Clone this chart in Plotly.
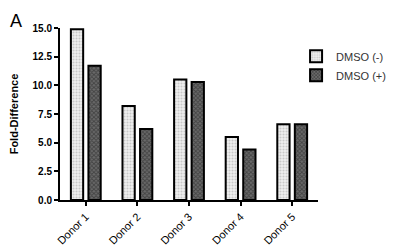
import plotly.graph_objects as go

categories = ["Donor 1", "Donor 2", "Donor 3", "Donor 4", "Donor 5"]
dmso_minus = [14.9, 8.2, 10.5, 5.5, 6.6]
dmso_plus = [11.7, 6.2, 10.3, 4.4, 6.6]
y_ticks = [0, 2.5, 5, 7.5, 10, 12.5, 15]
y_tick_labels = ["0.0", "2.5", "5.0", "7.5", "10.0", "12.5", "15.0"]

FONT = "Liberation Sans, Arial, sans-serif"

fig = go.Figure()
fig.add_trace(go.Bar(
    x=categories, y=dmso_minus, name="DMSO (-)",
    marker=dict(color="#eeeeee", line=dict(color="black", width=2),
                pattern=dict(shape=".", fgcolor="#a0a0a0", bgcolor="#f0f0f0", size=3, solidity=0.4)),
))
fig.add_trace(go.Bar(
    x=categories, y=dmso_plus, name="DMSO (+)",
    marker=dict(color="#444444", line=dict(color="black", width=2),
                pattern=dict(shape="x", fgcolor="#1a1a1a", bgcolor="#6a6a6a", size=3, solidity=0.5)),
))

# page has an 8px body margin, so the figure is sized to fit the 398x252 window
fig.update_layout(
    width=390, height=244,
    margin=dict(l=52, r=80, t=20, b=52, autoexpand=False),
    paper_bgcolor="white", plot_bgcolor="white",
    barmode="group", bargap=0.32, bargroupgap=0.3,
    font=dict(family=FONT, color="black"),
    showlegend=True,
    legend=dict(x=0.915, y=0.92, xanchor="left", yanchor="top",
                font=dict(size=11, color="#333333"), bgcolor="rgba(0,0,0,0)",
                itemwidth=30, tracegroupgap=0, itemsizing="constant"),
)
fig.add_annotation(text="A", xref="paper", yref="paper", x=-0.2, y=1.113, xanchor="left", yanchor="top",
                   showarrow=False, font=dict(size=18, color="black"))

fig.update_yaxes(range=[0, 15], tickvals=y_ticks, ticktext=y_tick_labels,
                 showline=True, linecolor="black", linewidth=2, ticks="outside", ticklen=4,
                 tickwidth=2, tickcolor="black", showgrid=False, zeroline=False, automargin=False,
                 tickfont=dict(size=10, family=FONT, weight="bold"),
                 title=dict(text="<b>Fold-Difference</b>", font=dict(size=11), standoff=14))
fig.update_xaxes(showline=True, linecolor="black", linewidth=2, ticks="outside", ticklen=4,
                 tickwidth=2, tickcolor="black", tickangle=-45, automargin=False,
                 tickfont=dict(size=11, family=FONT))

fig.write_html("out.html")
